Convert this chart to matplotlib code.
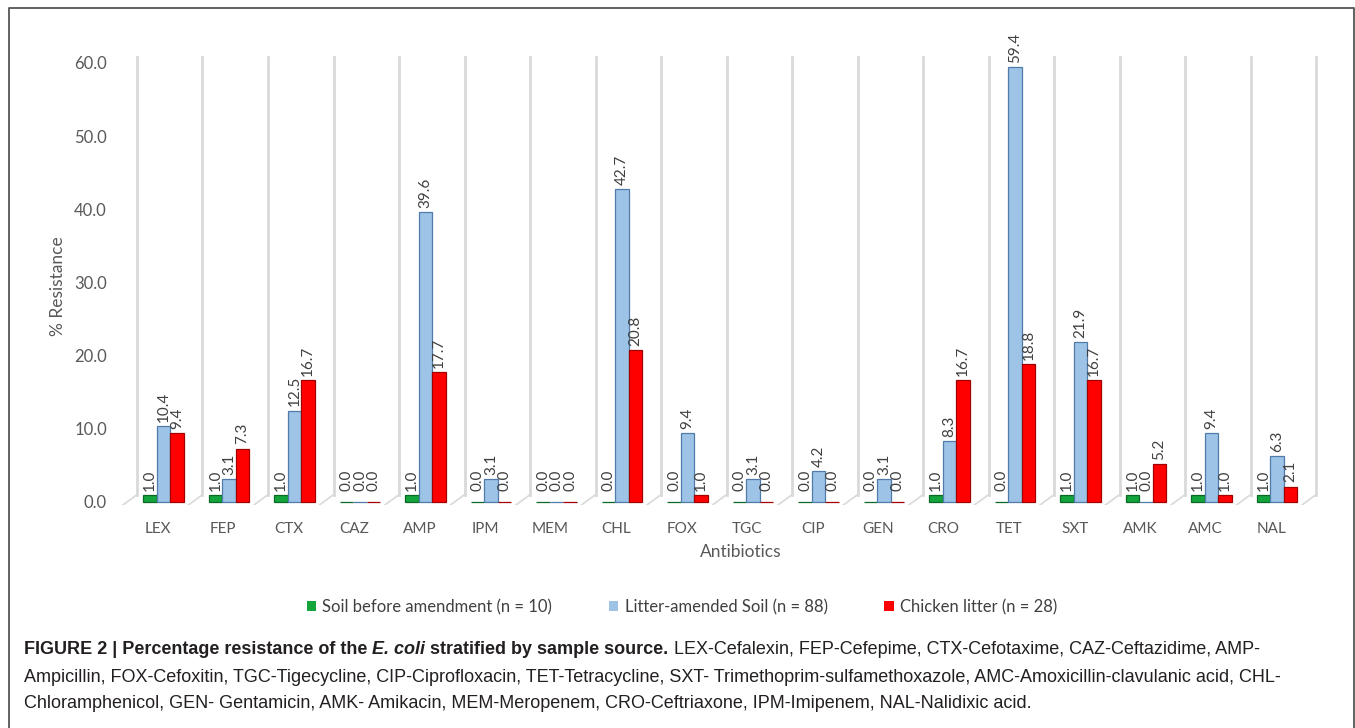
import matplotlib.pyplot as plt
import numpy as np
from matplotlib.patches import Patch
from matplotlib.lines import Line2D

plt.rcParams['font.family'] = ['Lato', 'DejaVu Sans']

# data
antibiotics = ['LEX', 'FEP', 'CTX', 'CAZ', 'AMP', 'IPM', 'MEM', 'CHL', 'FOX',
               'TGC', 'CIP', 'GEN', 'CRO', 'TET', 'SXT', 'AMK', 'AMC', 'NAL']
soil_before = [1.0, 1.0, 1.0, 0.0, 1.0, 0.0, 0.0, 0.0, 0.0,
               0.0, 0.0, 0.0, 1.0, 0.0, 1.0, 1.0, 1.0, 1.0]
litter_soil = [10.4, 3.1, 12.5, 0.0, 39.6, 3.1, 0.0, 42.7, 9.4,
               3.1, 4.2, 3.1, 8.3, 59.4, 21.9, 0.0, 9.4, 6.3]
chicken_litter = [9.4, 7.3, 16.7, 0.0, 17.7, 0.0, 0.0, 20.8, 1.0,
                  0.0, 0.0, 0.0, 16.7, 18.8, 16.7, 5.2, 1.0, 2.1]
series_names = ['Soil before amendment (n = 10)',
                'Litter-amended Soil (n = 88)',
                'Chicken litter (n = 28)']
yticks = [0, 10, 20, 30, 40, 50, 60]

fill = ['#14a43c', '#9dc3e6', '#ff0000']
edge = ['#0a6a25', '#4f7cab', '#a00000']

fig = plt.figure(figsize=(13.55, 7.28), dpi=100)
ax = fig.add_axes([0.08708, 0.30632, 0.8945, 0.62747])

x = np.arange(len(antibiotics))
w = 0.206
series = [soil_before, litter_soil, chicken_litter]

# back wall separators + slanted floor lines (fake 3D look)
for k in range(len(antibiotics) + 1):
    sx = k - 0.4046
    ax.plot([sx, sx], [1.0, 60.8], color='#d9d9d9', lw=2, zorder=1)
    ax.plot([sx, sx - 0.214], [1.0, -0.4], color='#d9d9d9', lw=1.2, zorder=1)

for j, vals in enumerate(series):
    pos = x + (j - 1) * w
    ax.bar(pos, vals, width=w, color=fill[j], edgecolor=edge[j], lw=0.9, zorder=3)
    for p, v in zip(pos, vals):
        off = 3 if v > 0 else 8
        ax.annotate(f'{v:.1f}', (p, v), xytext=(0, off), textcoords='offset points',
                    rotation=90, ha='center', va='bottom', fontsize=11,
                    color='#404040', zorder=4)

ax.set_xlim(-0.6947, 17.809)
ax.set_ylim(-0.41, 62)
ax.set_xticks(x - 0.09)
ax.set_xticklabels(antibiotics)
ax.set_yticks(yticks)
ax.set_yticklabels([f'{t:.1f}' for t in yticks])
ax.tick_params(length=0, labelsize=11, colors='#595959')
ax.tick_params(axis='y', labelsize=12, pad=8)
ax.tick_params(axis='x', pad=12)
for s in ax.spines.values():
    s.set_visible(False)

fig.text(741 / 1355, 1 - 552 / 728, 'Antibiotics', ha='center', va='center',
         fontsize=12.5, color='#595959')
fig.text(58 / 1355, 1 - 286 / 728, '% Resistance', ha='center', va='center',
         rotation=90, fontsize=12.5, color='#595959')

handles = [Patch(facecolor=fill[j], edgecolor='none') for j in range(3)]
fig.legend(handles, series_names, loc='center', bbox_to_anchor=(682 / 1355, 1 - 607 / 728),
           ncol=3, frameon=False, fontsize=12, handlelength=0.55, handleheight=0.55,
           handletextpad=0.4, columnspacing=3.4, labelcolor='#404040')

# frame around the chart (open at the bottom)
fig.add_artist(Line2D([9 / 1355, 9 / 1355, 1354 / 1355, 1354 / 1355],
                      [0, 1 - 8 / 728, 1 - 8 / 728, 0], color='#555555', lw=1.3))

# caption
cap = dict(fontsize=13, family=['Liberation Sans', 'DejaVu Sans'], va='baseline', color='#231f20')
renderer = fig.canvas.get_renderer()
pieces = [('FIGURE 2 | Percentage resistance of the ', 'bold', 'normal'),
          ('E. coli', 'bold', 'italic'),
          (' stratified by sample source.', 'bold', 'normal'),
          (' LEX-Cefalexin, FEP-Cefepime, CTX-Cefotaxime, CAZ-Ceftazidime, AMP-', 'normal', 'normal')]
xpos = 24
for txt, fw, st in pieces:
    t = fig.text(xpos / 1355, 1 - 654 / 728, txt, fontweight=fw, fontstyle=st, **cap)
    xpos += t.get_window_extent(renderer).width
fig.text(24 / 1355, 1 - 682 / 728,
         'Ampicillin, FOX-Cefoxitin, TGC-Tigecycline, CIP-Ciprofloxacin, TET-Tetracycline, '
         'SXT- Trimethoprim-sulfamethoxazole, AMC-Amoxicillin-clavulanic acid, CHL-', **cap)
fig.text(24 / 1355, 1 - 708 / 728,
         'Chloramphenicol, GEN- Gentamicin, AMK- Amikacin, MEM-Meropenem, CRO-Ceftriaxone, '
         'IPM-Imipenem, NAL-Nalidixic acid.', **cap)

fig.savefig('out.png', dpi=100)
